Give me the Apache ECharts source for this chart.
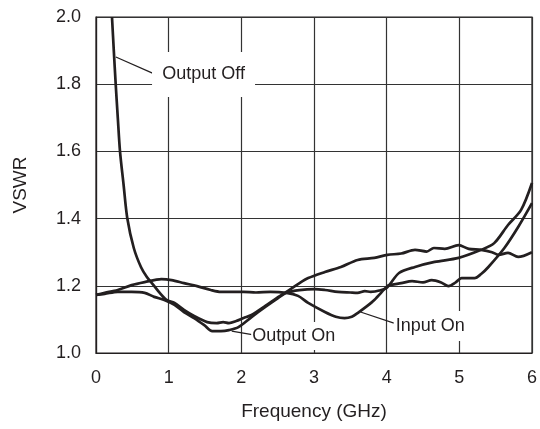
<!DOCTYPE html>
<html>
<head>
<meta charset="utf-8">
<script src="https://cdn.jsdelivr.net/npm/echarts@6/dist/echarts.min.js"></script>
<style>
html,body{margin:0;padding:0;background:#fff;}
#chart{width:540px;height:429px;}
</style>
</head>
<body>
<div id="chart"></div>
<script>
// Frequency (GHz), VSWR pairs
var outputOff = [[0.22,2.0],[0.245,1.90],[0.27,1.804],[0.30,1.70],[0.33,1.601],[0.38,1.50],[0.43,1.402],[0.52,1.3125],[0.62,1.255],[0.70,1.226],[0.78,1.205],[0.88,1.178],[0.97,1.158],[1.08,1.149],[1.21,1.128],[1.35,1.110],[1.53,1.092],[1.66,1.089],[1.75,1.092],[1.83,1.089],[1.93,1.095],[2.03,1.104],[2.14,1.113],[2.33,1.140],[2.51,1.167],[2.62,1.182],[2.78,1.205],[2.92,1.223],[3.15,1.241],[3.37,1.256],[3.6,1.277],[3.83,1.283],[4.01,1.292],[4.2,1.296],[4.39,1.307],[4.55,1.302],[4.65,1.3125],[4.8,1.31],[4.99,1.321],[5.13,1.31],[5.3,1.307],[5.45,1.30],[5.54,1.292],[5.67,1.298],[5.81,1.286],[6.0,1.30]];
var outputOn = [[0,1.173],[0.12,1.176],[0.3,1.182],[0.49,1.182],[0.67,1.179],[0.8,1.167],[0.94,1.158],[1.08,1.143],[1.21,1.122],[1.35,1.104],[1.49,1.083],[1.6,1.065],[1.72,1.065],[1.83,1.068],[1.96,1.077],[2.14,1.107],[2.33,1.137],[2.51,1.164],[2.62,1.179],[2.8,1.187],[3.01,1.19],[3.15,1.1875],[3.33,1.182],[3.5,1.18],[3.6,1.179],[3.7,1.184],[3.78,1.182],[3.9,1.186],[4.01,1.196],[4.17,1.238],[4.39,1.256],[4.66,1.271],[4.99,1.283],[5.3,1.307],[5.48,1.327],[5.67,1.381],[5.85,1.426],[6.0,1.506]];
var inputOn = [[0,1.173],[0.12,1.179],[0.3,1.1875],[0.49,1.202],[0.67,1.211],[0.9,1.22],[1.04,1.217],[1.21,1.208],[1.39,1.199],[1.58,1.1875],[1.72,1.182],[1.9,1.182],[2.03,1.182],[2.2,1.18],[2.4,1.182],[2.62,1.179],[2.78,1.17],[2.92,1.149],[3.15,1.122],[3.3,1.108],[3.42,1.104],[3.52,1.108],[3.6,1.119],[3.72,1.138],[3.83,1.158],[4.01,1.199],[4.04,1.202],[4.2,1.208],[4.35,1.214],[4.5,1.21],[4.62,1.217],[4.75,1.21],[4.85,1.199],[4.95,1.21],[5.03,1.223],[5.21,1.223],[5.3,1.235],[5.4,1.256],[5.62,1.3125],[5.81,1.375],[6.0,1.446]];
var xTicks = [0,1,2,3,4,5,6];
var yTicks = [1.0,1.2,1.4,1.6,1.8,2.0];
// annotation anchors (data coords)
var labelOutputOff = {text:'Output Off', at:[1.48,1.829], from:[0.273,1.881], to:[0.777,1.833]};
var labelOutputOn  = {text:'Output On',  at:[2.72,1.0506], from:[1.868,1.065], to:[2.168,1.054]};
var labelInputOn   = {text:'Input On',   at:[4.60,1.080], from:[3.64,1.122], to:[4.10,1.089]};

var FONT = '"Liberation Sans", Arial, sans-serif';
var INK = '#231f20';

function annot(lbl, w, h){
  return {
    markLine: {
      silent: true, symbol: ['none','none'], animation:false,
      lineStyle: {color: INK, width: 1.2, type: 'solid'},
      label: {show:false},
      data: [[{coord: lbl.from}, {coord: lbl.to}]]
    },
    markPoint: {
      silent: true, animation:false,
      symbol: 'rect', symbolSize: [w, h],
      itemStyle: {color: '#fff'},
      label: {show: true, position: 'inside', formatter: lbl.text, color: INK, fontSize: 18, fontFamily: FONT},
      data: [{coord: lbl.at}]
    }
  };
}

function mk(name, data, lbl, w, h){
  var s = {
    name: name, type: 'line', data: data, smooth: 0.3, showSymbol: false, symbol:'none',
    clip: true, animation: false,
    lineStyle: {color: INK, width: 2.7}
  };
  var a = annot(lbl, w, h);
  s.markLine = a.markLine; s.markPoint = a.markPoint;
  return s;
}

var chart = echarts.init(document.getElementById('chart'), null, {renderer:'canvas'});
chart.setOption({
  backgroundColor: '#fff',
  animation: false,
  grid: {left: 96, right: 4, top: 17, bottom: 76, show: true, borderColor: INK, borderWidth: 1.2, backgroundColor:'transparent'},
  xAxis: {
    type: 'value', min: xTicks[0], max: xTicks[xTicks.length-1], interval: 1,
    name: 'Frequency (GHz)', nameLocation: 'middle', nameGap: 49,
    nameTextStyle: {fontSize: 19, fontFamily: FONT, color: INK},
    axisLine: {show: true, lineStyle: {color: INK, width: 1.2}},
    axisTick: {show: false},
    axisLabel: {fontSize: 18, fontFamily: FONT, color: INK, margin: 16},
    splitLine: {show: true, lineStyle: {color: '#333', width: 1.2}}
  },
  yAxis: {
    type: 'value', min: yTicks[0], max: yTicks[yTicks.length-1], interval: 0.2,
    name: 'VSWR', nameLocation: 'middle', nameGap: 66, nameRotate: 90,
    nameTextStyle: {fontSize: 19, fontFamily: FONT, color: INK},
    axisLine: {show: true, lineStyle: {color: INK, width: 1.2}},
    axisTick: {show: false},
    axisLabel: {fontSize: 18, fontFamily: FONT, color: INK, margin: 15, formatter: function(v){return v.toFixed(1);}},
    splitLine: {show: true, lineStyle: {color: '#333', width: 1.2}}
  },
  series: [
    mk('Output Off', outputOff, labelOutputOff, 103, 45),
    mk('Output On', outputOn, labelOutputOn, 85, 28),
    mk('Input On', inputOn, labelInputOn, 73, 30)
  ]
});
</script>
</body>
</html>
